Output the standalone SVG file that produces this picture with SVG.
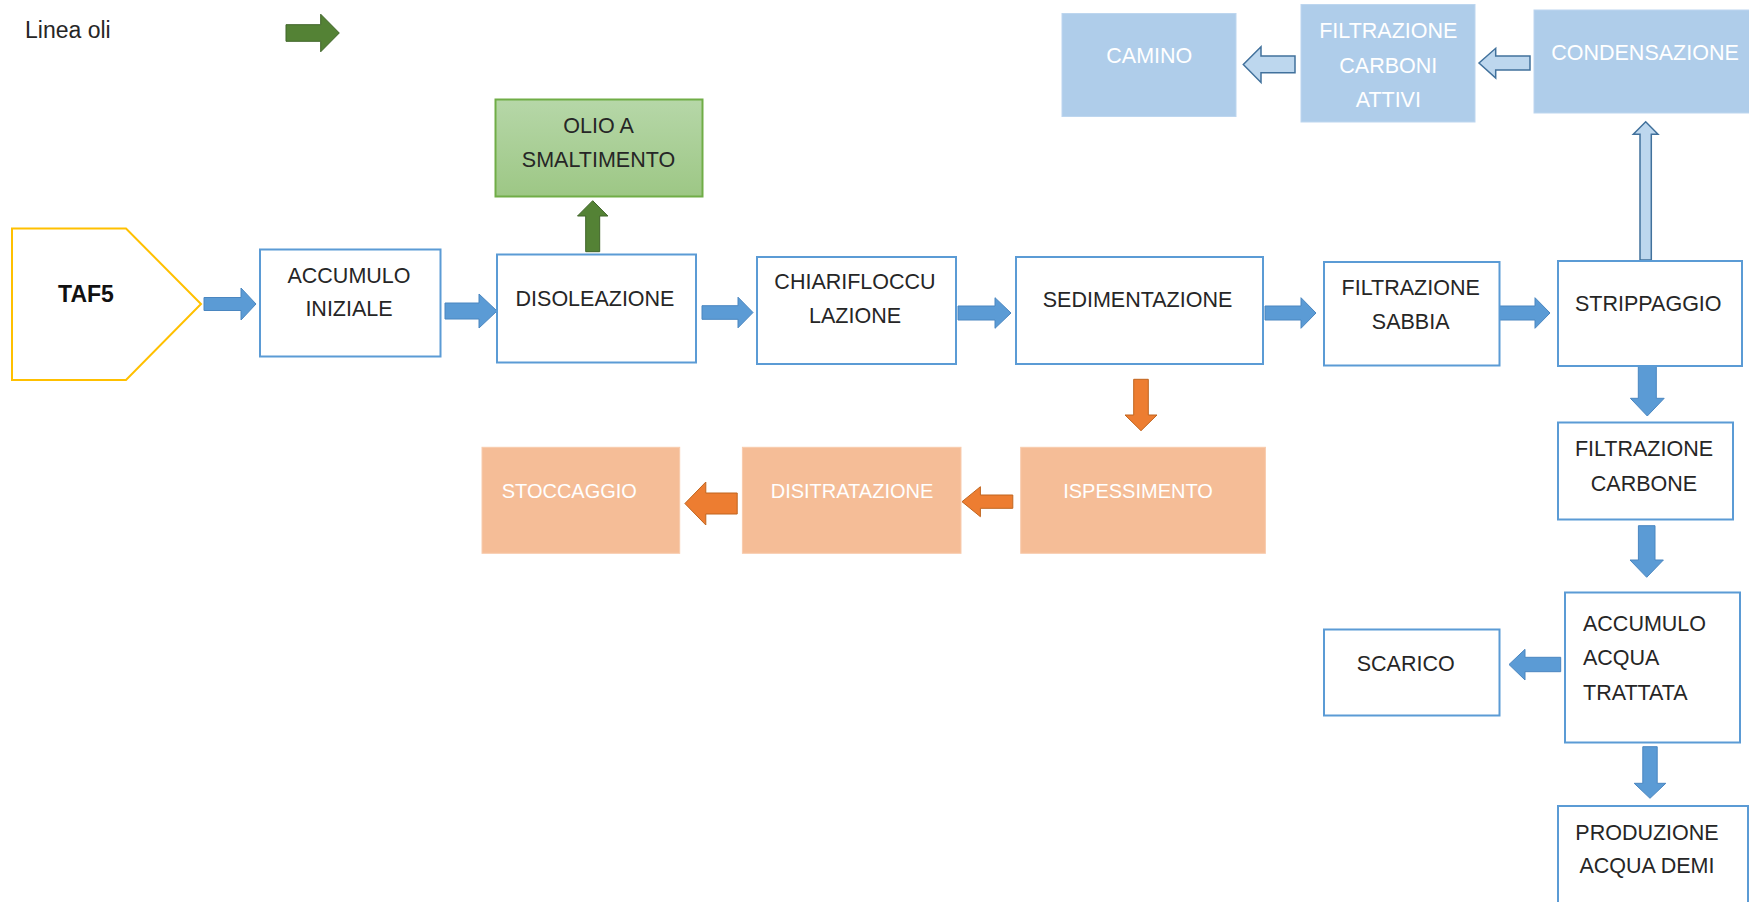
<svg xmlns="http://www.w3.org/2000/svg" width="1749" height="902" viewBox="0 0 1749 902">
<defs>
<linearGradient id="gGreen" x1="0" y1="0" x2="0" y2="1">
<stop offset="0" stop-color="#B6D7A8"/>
<stop offset="1" stop-color="#9DC785"/>
</linearGradient>
</defs>
<style>
text{font-family:"Liberation Sans",Arial,sans-serif;font-size:21.5px;fill:#262626}
.c{text-anchor:middle}
.w{fill:#FFFFFF}
.o{font-size:20px}
.box{fill:#FFFFFF;stroke:#5B9BD5;stroke-width:2}
.lb{fill:#AFCDEA;stroke:#BDD6EF;stroke-width:1}
.or{fill:#F5BD97;stroke:#F8CBAD;stroke-width:1}
.gr{fill:url(#gGreen);stroke:#70AD47;stroke-width:2}
.ab{fill:#5B9BD5;stroke:#4A86C0;stroke-width:1}
.al{fill:#BDD7EE;stroke:#41719C;stroke-width:1.5}
.ao{fill:#ED7D31;stroke:#C0651F;stroke-width:1}
.ag{fill:#548235;stroke:#3F6428;stroke-width:1}
</style>
<rect width="1749" height="902" fill="#FFFFFF"/>

<g id="legend">
<text x="25" y="38" style="font-size:23px">Linea oli</text>
<polygon class="ag" points="286,24.7 320.7,24.7 320.7,14.2 339.3,33 320.7,51.8 320.7,41.3 286,41.3"/>
</g>

<g id="connectors">
<polygon class="ab" points="204,297.5 241,297.5 241,288 256,304 241,320 241,310.5 204,310.5"/>
<polygon class="ab" points="445,303 479,303 479,294 497,311 479,328 479,319 445,319"/>
<polygon class="ab" points="702,305.7 738,305.7 738,297.2 753,312.5 738,327.8 738,319.3 702,319.3"/>
<polygon class="ab" points="958,306 995,306 995,297.7 1011,313 995,328.3 995,320 958,320"/>
<polygon class="ab" points="1265,306 1301,306 1301,297.7 1316,313 1301,328.3 1301,320 1265,320"/>
<polygon class="ab" points="1499,306 1535,306 1535,297.7 1550,313 1535,328.3 1535,320 1499,320"/>
<polygon class="ag" points="585.7,251.7 585.7,216 577.5,216 592.7,200.7 607.9,216 599.7,216 599.7,251.7"/>
<polygon class="al" points="1640,260 1640,134.3 1633.3,134.3 1645.7,121.7 1658,134.3 1651.3,134.3 1651.3,260"/>
<polygon class="al" points="1530,56 1495.7,56 1495.7,48.3 1479,63 1495.7,78 1495.7,70 1530,70"/>
<polygon class="al" points="1295,56 1261,56 1261,46.7 1243.3,64.5 1261,82.5 1261,72.7 1295,72.7"/>
<polygon class="ab" points="1638.3,365.7 1656.3,365.7 1656.3,398.3 1664.2,398.3 1647.3,416 1630.4,398.3 1638.3,398.3"/>
<polygon class="ab" points="1638.4,525.7 1655,525.7 1655,560 1663.4,560 1646.7,577.3 1630,560 1638.4,560"/>
<polygon class="ab" points="1642.8,746.7 1657.2,746.7 1657.2,783.3 1665.8,783.3 1650,798.3 1634.2,783.3 1642.8,783.3"/>
<polygon class="ab" points="1560.7,657.3 1525,657.3 1525,649.3 1509,664.5 1525,680 1525,671.7 1560.7,671.7"/>
<polygon class="ao" points="1133.7,379.3 1148.3,379.3 1148.3,415 1157,415 1141,430.7 1125,415 1133.7,415"/>
<polygon class="ao" points="1012.8,495 980.4,495 980.4,486.7 962,501.7 980.4,516.7 980.4,508.3 1012.8,508.3"/>
<polygon class="ao" points="737.2,493 705.8,493 705.8,482 684.9,503.5 705.8,525 705.8,514 737.2,514"/>
</g>

<g id="taf5">
<polygon points="12,228.5 126,228.5 201,304 126,380 12,380" fill="#FFFFFF" stroke="#FFC000" stroke-width="2"/>
<text class="c" x="86" y="302" style="font-size:23px;font-weight:bold;fill:#111">TAF5</text>
</g>

<g id="accumulo-iniziale">
<rect class="box" x="260" y="249.5" width="180.5" height="107"/>
<text class="c" x="349" y="282.7">ACCUMULO</text>
<text class="c" x="349" y="316">INIZIALE</text>
</g>

<g id="disoleazione">
<rect class="box" x="497" y="254.5" width="199" height="108"/>
<text class="c" x="595" y="306">DISOLEAZIONE</text>
</g>

<g id="olio-smaltimento">
<rect class="gr" x="495.5" y="99.5" width="207" height="97"/>
<text class="c" x="598.5" y="132.7">OLIO A</text>
<text class="c" x="598.5" y="166.7">SMALTIMENTO</text>
</g>

<g id="chiariflocculazione">
<rect class="box" x="757" y="257" width="199" height="107"/>
<text class="c" x="855" y="289.3">CHIARIFLOCCU</text>
<text class="c" x="855" y="322.7">LAZIONE</text>
</g>

<g id="sedimentazione">
<rect class="box" x="1016" y="257" width="247" height="107"/>
<text class="c" x="1137.5" y="307.3">SEDIMENTAZIONE</text>
</g>

<g id="filtrazione-sabbia">
<rect class="box" x="1324" y="262" width="175.5" height="103.5"/>
<text class="c" x="1410.7" y="295">FILTRAZIONE</text>
<text class="c" x="1410.7" y="329.3">SABBIA</text>
</g>

<g id="strippaggio">
<rect class="box" x="1558" y="261" width="184" height="105"/>
<text class="c" x="1648.3" y="311">STRIPPAGGIO</text>
</g>

<g id="condensazione">
<rect class="lb" x="1534" y="10" width="216" height="103"/>
<text class="c w" x="1645" y="60">CONDENSAZIONE</text>
</g>

<g id="filtrazione-carboni-attivi">
<rect class="lb" x="1301" y="4.5" width="174" height="117.5"/>
<text class="c w" x="1388.3" y="38.3">FILTRAZIONE</text>
<text class="c w" x="1388.3" y="73.3">CARBONI</text>
<text class="c w" x="1388.3" y="107.3">ATTIVI</text>
</g>

<g id="camino">
<rect class="lb" x="1062" y="13.5" width="174" height="103"/>
<text class="c w" x="1149.3" y="62.7">CAMINO</text>
</g>

<g id="ispessimento">
<rect class="or" x="1020.7" y="447.3" width="244.7" height="106"/>
<text class="c w o" x="1138" y="498.3">ISPESSIMENTO</text>
</g>

<g id="disitratazione">
<rect class="or" x="742.4" y="447.3" width="218.6" height="106"/>
<text class="c w o" x="852" y="498.3">DISITRATAZIONE</text>
</g>

<g id="stoccaggio">
<rect class="or" x="482" y="447.3" width="197.7" height="106"/>
<text class="c w o" x="569.3" y="498.3">STOCCAGGIO</text>
</g>

<g id="filtrazione-carbone">
<rect class="box" x="1558" y="422.5" width="175" height="97"/>
<text class="c" x="1644" y="456">FILTRAZIONE</text>
<text class="c" x="1644" y="491">CARBONE</text>
</g>

<g id="accumulo-acqua-trattata">
<rect class="box" x="1565" y="592.5" width="175" height="150"/>
<text x="1583" y="630.7">ACCUMULO</text>
<text x="1583" y="665">ACQUA</text>
<text x="1583" y="700">TRATTATA</text>
</g>

<g id="scarico">
<rect class="box" x="1324" y="629.5" width="175.5" height="86"/>
<text class="c" x="1405.7" y="670.7">SCARICO</text>
</g>

<g id="produzione-acqua-demi">
<rect class="box" x="1558" y="806" width="190" height="100"/>
<text class="c" x="1647" y="840">PRODUZIONE</text>
<text class="c" x="1647" y="873.3">ACQUA DEMI</text>
</g>
</svg>
